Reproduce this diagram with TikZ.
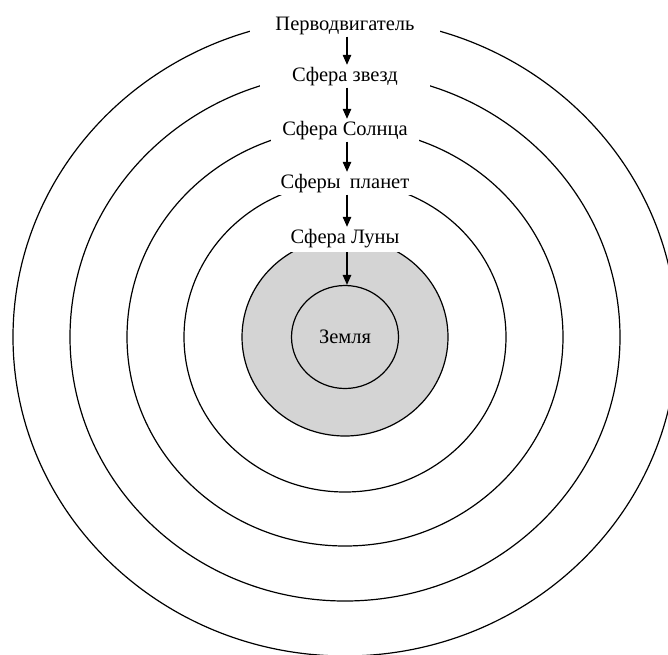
\documentclass[tikz,border=0pt]{standalone}
\usepackage{fontspec}
\setmainfont{Liberation Serif}
\usetikzlibrary{arrows.meta,shapes.geometric}
\definecolor{moongrey}{RGB}{212,212,212}
\begin{document}
\begin{tikzpicture}[x=1pt,y=-1pt,
  sphere/.style={line width=1.2pt},
  txt/.style={font=\fontsize{20.5}{24}\selectfont},
  lbl/.style={txt, fill=white, inner xsep=2pt, inner ysep=2pt, text height=14pt, text depth=4.5pt},
  link/.style={line width=1.2pt, -{Triangle[length=10pt,width=8.5pt]}},
]
\clip (0,0) rectangle (668,654);
\fill[white] (0,0) rectangle (668,654);
% spheres
\draw[sphere] (345,337) ellipse [x radius=332pt, y radius=319pt];
\draw[sphere] (345,337) ellipse [x radius=275pt, y radius=264pt];
\draw[sphere] (345,337) ellipse [x radius=218pt, y radius=209pt];
\draw[sphere] (345,337) ellipse [x radius=161pt, y radius=155pt];
\draw[sphere, fill=moongrey] (345,337) ellipse [x radius=103pt, y radius=99pt];
\node[draw, sphere, ellipse, fill=moongrey, txt, minimum width=107pt, minimum height=103pt, inner sep=0pt] (earth) at (345,337) {Земля};
% labels
\node[lbl, anchor=base, minimum width=190pt] (pm) at (345,30) {Перводвигатель};
\node[lbl, anchor=base, minimum width=170pt] (zv) at (345,81) {Сфера звезд};
\node[lbl, anchor=base, minimum width=148pt] (sun) at (345,135) {Сфера Солнца};
\node[lbl, anchor=base] (pl) at (345,188) {Сферы\hspace{0.45em}планет};
\node[lbl, anchor=base, text depth=7pt] (moon) at (345,243) {Сфера Луны};
% arrows
\draw[link] ([xshift=2pt]pm.south) -- ([xshift=2pt]zv.north);
\draw[link] ([xshift=2pt]zv.south) -- ([xshift=2pt]sun.north);
\draw[link] ([xshift=2pt]sun.south) -- ([xshift=2pt]pl.north);
\draw[link] ([xshift=2pt]pl.south) -- ([xshift=2pt]moon.north);
\draw[link] ([xshift=2pt]moon.south) -- ([xshift=2pt]earth.north);
\end{tikzpicture}
\end{document}
